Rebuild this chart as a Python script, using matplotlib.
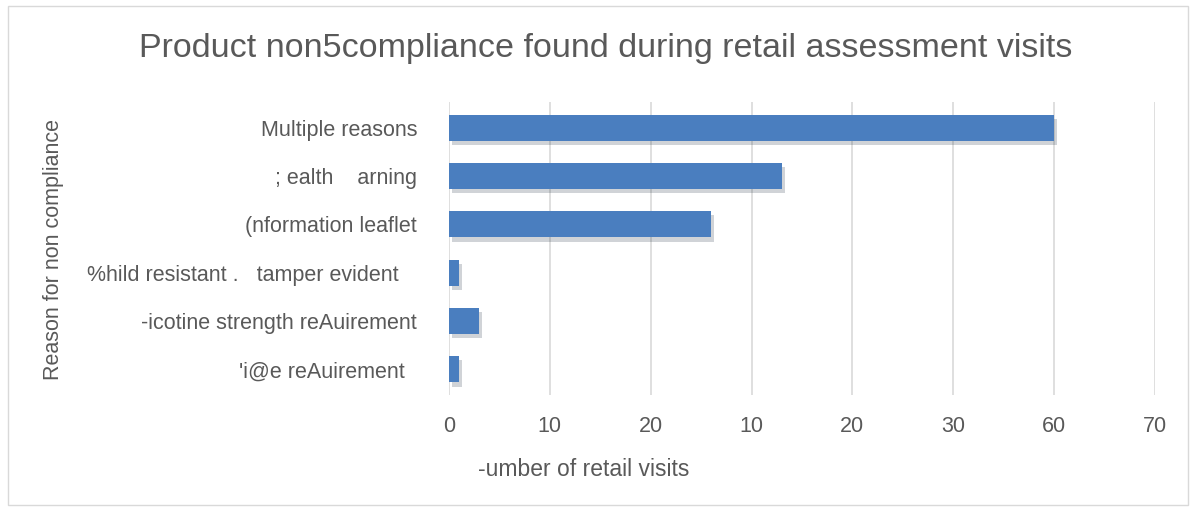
import matplotlib.pyplot as plt
from matplotlib.patches import Rectangle
import matplotlib.patheffects as pe

# text as it appears in the source (font-mapping glitches kept)
reasons = [
    "Multiple reasons",
    "; ealth    arning",
    "(nformation leaflet",
    "%hild resistant .   tamper evident   ",
    "-icotine strength reAuirement",
    "'i@e reAuirement  ",
]
visits = [60, 33, 26, 1, 3, 1]
x_ticks = [0, 10, 20, 30, 40, 50, 60, 70]
x_tick_labels = ["0", "10", "20", "10", "20", "30", "60", "70"]

title = "Product non5compliance found during retail assessment visits"
x_label = "-umber of retail visits"
y_label = "Reason for non compliance"

plt.rcParams["font.family"] = ["Liberation Sans", "DejaVu Sans"]
grey = "#595959"

fig = plt.figure(figsize=(11.95, 5.09), dpi=100)
ax = fig.add_axes([449 / 1195, 1 - 395 / 509, 706 / 1195, 293 / 509])

ypos = list(range(len(reasons)))
bars = ax.barh(ypos, visits, height=0.54, color="#4a7ebf", zorder=3)
for b in bars:
    b.set_path_effects([pe.SimplePatchShadow(offset=(2, -3), alpha=0.2), pe.Normal()])

ax.set_xlim(0, 70)
ax.set_ylim(len(reasons) - 0.47, -0.53)
ax.set_xticks(x_ticks)
ax.set_xticklabels(x_tick_labels, fontsize=15.5, color=grey)
ax.set_yticks(ypos)
ax.set_yticklabels(reasons, fontsize=15.5, color=grey)
ax.tick_params(axis="both", length=0)
ax.tick_params(axis="x", pad=15)
ax.tick_params(axis="y", pad=23)
ax.grid(axis="x", color="#d9d9d9", linewidth=1.2, zorder=0)
for s in ax.spines.values():
    s.set_visible(False)

fig.text(606 / 1195, 1 - 49 / 509, title, ha="center", va="center",
         fontsize=24.5, color=grey)
fig.text(478 / 1195, 1 - 470 / 509, x_label, ha="left", va="center",
         fontsize=16.5, color=grey)
fig.text(54 / 1195, 1 - 249 / 509, y_label, ha="center", va="center",
         rotation=90, fontsize=15.5, color=grey)

fig.patches.append(Rectangle((8 / 1195, 4 / 509), 1180 / 1195, 499 / 509,
                             transform=fig.transFigure, fill=False,
                             edgecolor="#d9d9d9", linewidth=1))

fig.savefig("out.png", dpi=100)
